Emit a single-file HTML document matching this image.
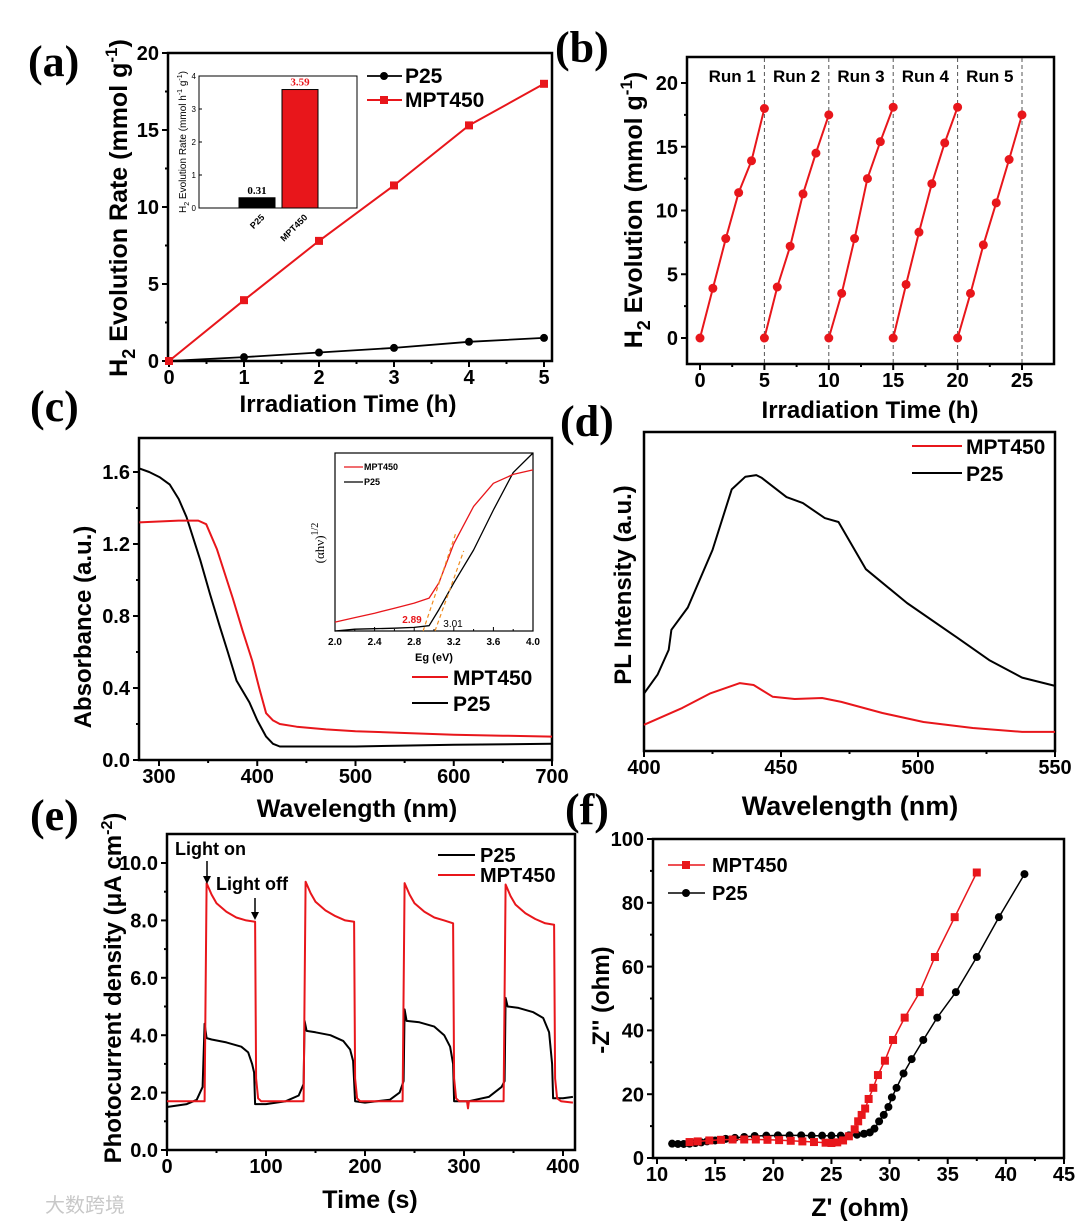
<!DOCTYPE html>
<html><head><meta charset="utf-8">
<style>
html,body{margin:0;padding:0;background:#fff;}
svg{display:block;font-family:"Liberation Sans",Arial,sans-serif;}
</style></head>
<body>
<svg id="fig" width="1080" height="1226" viewBox="0 0 1080 1226" xmlns="http://www.w3.org/2000/svg"></svg>
<script>
// ---------- DATA ----------
// (a)
const aTimes=[0,1,2,3,4,5];
const aP25=[0,0.25,0.55,0.85,1.25,1.5];
const aMPT=[0,3.95,7.8,11.4,15.3,18.0];
const aInsetCats=["P25","MPT450"];
const aInsetVals=[0.31,3.59];
// (b)
const bRunHours=[0,1,2,3,4,5];
const bRun1=[0,3.9,7.8,11.4,13.9,18.0];
const bRun2=[0,4.0,7.2,11.3,14.5,17.5];
const bRun3=[0,3.5,7.8,12.5,15.4,18.1];
const bRun4=[0,4.2,8.3,12.1,15.3,18.1];
const bRun5=[0,3.5,7.3,10.6,14.0,17.5];
const bRunLabels=["Run 1","Run 2","Run 3","Run 4","Run 5"];
// (c)
const cMPTwl=[280,300,320,340,348,359,375,385,395,402,409,416,423,440,470,500,550,600,650,700];
const cMPTab=[1.32,1.325,1.33,1.33,1.31,1.17,0.9,0.72,0.55,0.4,0.26,0.22,0.2,0.185,0.17,0.16,0.15,0.14,0.135,0.13];
const cP25wl=[280,290,301,311,320,328,342,352,362,370,379,392,400,409,416,423,450,500,600,700];
const cP25ab=[1.62,1.6,1.57,1.53,1.45,1.35,1.11,0.92,0.74,0.6,0.44,0.32,0.22,0.13,0.09,0.075,0.075,0.075,0.085,0.09];
const cInEg=[2.0,2.2,2.4,2.6,2.8,2.95,3.05,3.2,3.4,3.6,3.8,4.0];
const cInMPT=[5,7.5,10,12.8,15.7,18.5,27,49,70,83,88,90.5];
const cInP25=[0,1,1.3,1.6,2,3,12,27,45.5,68,89,100];
// (d)
const dWlP25=[400,405,409,410,416,425,432,437,441,443,452,458,466,471,481,496,514,526,538,550];
const dP25=[18,24,31.7,38,45,63,82,86,86.5,85.6,79.6,77.7,73,71.8,57,46.4,35.7,28.5,23,20.4];
const dWlMPT=[400,414,424,435,440,447,455,465,472,487,502,520,538,550];
const dMPT=[8.2,13.5,18,21.3,20.7,17,16.3,16.6,15.4,11.9,9.1,7.2,6,6];
// (e)
const eTimeMPT=[0,38,40,45,50,60,70,80,89,90,92,95,138,140,145,150,160,170,180,189,190,192,195,238,240,245,250,260,270,280,289,290,292,295,303,304,305,340,342,347,352,362,372,382,391,392,394,398,410];
const eMPT=[1.7,1.7,9.3,8.9,8.6,8.3,8.1,8.0,7.95,2.5,1.8,1.7,1.7,9.35,8.95,8.65,8.35,8.15,8.0,7.95,2.5,1.8,1.7,1.7,9.3,8.9,8.6,8.3,8.1,8.0,7.9,2.5,1.8,1.7,1.7,1.45,1.7,1.7,9.25,8.85,8.55,8.25,8.05,7.9,7.85,2.5,1.8,1.7,1.65];
const eTimeP25=[0,20,30,36,38,40,45,60,75,82,86,88,89,100,120,133,138,139,141,150,165,178,185,188,190,200,225,235,239,240,242,255,270,280,286,289,290,305,325,338,341,342,344,355,370,380,386,389,390,400,410];
const eP25=[1.5,1.6,1.75,2.2,4.4,3.9,3.85,3.75,3.6,3.4,3.0,2.7,1.6,1.6,1.7,1.9,2.3,4.5,4.15,4.1,4.0,3.8,3.5,3.1,1.7,1.65,1.75,2.0,2.4,4.9,4.5,4.45,4.3,4.0,3.6,3.0,1.7,1.7,1.85,2.2,2.4,5.3,5.0,4.95,4.8,4.6,4.1,3.0,1.8,1.8,1.85];
// (f)
const fZreMPT=[12.8,13.5,14.5,15.5,16.5,17.5,18.5,19.5,20.5,21.5,22.5,23.5,24.5,25,25.5,26,26.5,27,27.3,27.6,27.9,28.2,28.6,29,29.6,30.3,31.3,32.6,33.9,35.6,37.5];
const fZimMPT=[5,5.2,5.5,5.7,5.8,5.8,5.8,5.7,5.6,5.4,5.2,5.0,4.8,4.7,4.9,5.5,6.8,9,11.5,13.5,15.5,18.5,22,26,30.5,37,44,52,63,75.5,89.5];
const fZreP25=[11.3,11.8,12.3,12.8,13.3,13.8,14.3,15,15.9,16.7,17.5,18.4,19.4,20.4,21.4,22.4,23.3,24.2,25,25.8,26.5,27.2,27.8,28.3,28.7,29.1,29.5,29.9,30.2,30.6,31.2,31.9,32.9,34.1,35.7,37.5,39.4,41.6];
const fZimP25=[4.5,4.4,4.4,4.5,4.7,4.9,5.2,5.5,6.0,6.3,6.6,6.9,7.0,7.1,7.1,7.1,7.0,7.0,7.0,7.0,7.1,7.3,7.6,8.0,9.2,11.5,13.5,16,19,22,26.5,31,37,44,52,63,75.5,89];

// ---------- HELPERS ----------
const NS="http://www.w3.org/2000/svg";
const svg=document.getElementById('fig');
function mk(tag,attrs,name,parent){
  const el=document.createElementNS(NS,tag);
  for(const k in attrs) el.setAttribute(k,attrs[k]);
  
  
  (parent||svg).appendChild(el);
  return el;
}
function txt(s,x,y,opt,name,parent){
  const a={x:x,y:y,'font-size':opt.size||20,'font-weight':opt.weight||'bold',fill:opt.fill||'#000','text-anchor':opt.anchor||'middle'};
  if(opt.family) a['font-family']=opt.family;
  if(opt.rot!==undefined) a.transform='rotate('+opt.rot+' '+x+' '+y+')';
  const t=mk('text',a,name,parent);
  t.textContent=s;
  return t;
}
function scale(v0,v1,p0,p1){return v=>p0+(v-v0)*(p1-p0)/(v1-v0);}
function panel(id,box,sx,sy,xt,yt,opt){
  const g=mk('g',{},'panel-'+id);
  mk('rect',{x:box[0],y:box[1],width:box[2]-box[0],height:box[3]-box[1],fill:'none',stroke:'#000','stroke-width':opt.sw||2.5},'plot-frame-'+id,g);
  const fs=opt.fs||20;
  if(xt){
    for(let v=xt.min; v<=xt.max+1e-9; v+=xt.minor){
      const major=Math.abs(Math.round((v-xt.min)/xt.step)*xt.step-(v-xt.min))<1e-6;
      const x=sx(v);
      mk('line',{x1:x,x2:x,y1:box[3],y2:box[3]+(major?(opt.tl||6):(opt.tl||6)/2),stroke:'#000','stroke-width':opt.tw||2},'x-tick-'+id,g);
      if(major && !xt.nolabel) txt(xt.fmt?xt.fmt(v):String(Math.round(v*100)/100),x,box[3]+(opt.xlo||23),{size:fs},'x-tick-label-'+id,g);
    }
  }
  if(yt){
    for(let v=yt.min; v<=yt.max+1e-9; v+=yt.minor){
      const major=Math.abs(Math.round((v-yt.min)/yt.step)*yt.step-(v-yt.min))<1e-6;
      const y=sy(v);
      mk('line',{x1:box[0],x2:box[0]-(major?(opt.tl||6):(opt.tl||6)/2),y1:y,y2:y,stroke:'#000','stroke-width':opt.tw||2},'y-tick-'+id,g);
      if(major && !yt.nolabel) txt(yt.fmt?yt.fmt(v):String(Math.round(v*100)/100),box[0]-(opt.ylo||9),y+fs*0.36,{size:fs,anchor:'end'},'y-tick-label-'+id,g);
    }
  }
  return g;
}
function line(xs,ys,sx,sy,color,w,name,parent){
  let d='';
  for(let i=0;i<xs.length;i++) d+=(i?'L':'M')+sx(xs[i]).toFixed(1)+' '+sy(ys[i]).toFixed(1);
  return mk('path',{d:d,fill:'none',stroke:color,'stroke-width':w,'stroke-linejoin':'round'},name,parent);
}
function circles(xs,ys,sx,sy,color,r,name,parent){
  for(let i=0;i<xs.length;i++) mk('circle',{cx:sx(xs[i]),cy:sy(ys[i]),r:r,fill:color},name,parent);
}
function squares(xs,ys,sx,sy,color,s,name,parent){
  for(let i=0;i<xs.length;i++) mk('rect',{x:sx(xs[i])-s/2,y:sy(ys[i])-s/2,width:s,height:s,fill:color},name,parent);
}
const RED='#e8161b';
const LBL={size:44,weight:'bold',family:'"Liberation Serif",serif',anchor:'start'};

// ---------- PANEL A ----------
(function(){
  const box=[168,53,552,361];
  const sx=scale(0,5,169,544), sy=scale(0,20,361,53);
  const g=panel('a',box,sx,sy,{min:0,max:5,step:1,minor:0.5},{min:0,max:20,step:5,minor:2.5},{});
  line(aTimes,aP25,sx,sy,'#000',1.8,'p25-line-a',g);
  circles(aTimes,aP25,sx,sy,'#000',4,'p25-marker-a',g);
  line(aTimes,aMPT,sx,sy,RED,2,'mpt450-line-a',g);
  squares(aTimes,aMPT,sx,sy,RED,8,'mpt450-marker-a',g);
  txt('(a)',28,76,LBL,'panel-label-a');
  const yl=txt('',127,208,{size:25,rot:-90},'y-axis-title-a');
  yl.innerHTML='H<tspan font-size="18" dy="8">2</tspan><tspan dy="-8"> Evolution Rate (mmol  g</tspan><tspan font-size="17" dy="-10">-1</tspan><tspan dy="10">)</tspan>';
  txt('Irradiation Time (h)',348,412,{size:24},'x-axis-title-a');
  mk('line',{x1:367,x2:402,y1:76,y2:76,stroke:'#000','stroke-width':1.8},'legend-line-p25-a');
  mk('circle',{cx:384,cy:76,r:4,fill:'#000'},'legend-marker-p25-a');
  txt('P25',405,83,{size:21,anchor:'start'},'legend-label-p25-a');
  mk('line',{x1:367,x2:402,y1:100,y2:100,stroke:RED,'stroke-width':2},'legend-line-mpt450-a');
  mk('rect',{x:380,y:96,width:8,height:8,fill:RED},'legend-marker-mpt450-a');
  txt('MPT450',405,107,{size:21,anchor:'start'},'legend-label-mpt450-a');
  const ib=[199,76,357,208];
  const iy=scale(0,4,208,76);
  const ig=mk('g',{},'inset-bar-chart-a');
  mk('rect',{x:ib[0],y:ib[1],width:ib[2]-ib[0],height:ib[3]-ib[1],fill:'#fff',stroke:'#000','stroke-width':1},'inset-frame-a',ig);
  for(let v=0;v<=4;v++){
    mk('line',{x1:ib[0],x2:ib[0]+3,y1:iy(v),y2:iy(v),stroke:'#000','stroke-width':1},'inset-y-tick-a',ig);
    txt(String(v),ib[0]-3,iy(v)+3,{size:8,weight:'normal',anchor:'end'},'inset-y-tick-label-a',ig);
  }
  const barX=[257,300], barW=36, barCol=['#000',RED];
  for(let i=0;i<aInsetVals.length;i++){
    mk('rect',{x:barX[i]-barW/2,y:iy(aInsetVals[i]),width:barW,height:208-iy(aInsetVals[i]),fill:barCol[i],stroke:'#000','stroke-width':1},'inset-bar-'+aInsetCats[i].toLowerCase(),ig);
    txt(aInsetVals[i].toFixed(2),barX[i],iy(aInsetVals[i])-4,{size:11,fill:barCol[i],family:'"Liberation Serif",serif'},'inset-bar-value-'+aInsetCats[i].toLowerCase(),ig);
    txt(aInsetCats[i],barX[i]+8,218,{size:9,anchor:'end',rot:-45},'inset-x-label-'+aInsetCats[i].toLowerCase(),ig);
  }
  const it=txt('',186,142,{size:10,weight:'normal',rot:-90},'inset-y-axis-title-a',ig);
  it.innerHTML='H<tspan font-size="7" dy="3">2</tspan><tspan dy="-3"> Evolution Rate (mmol h</tspan><tspan font-size="7" dy="-4">-1</tspan><tspan dy="4"> g</tspan><tspan font-size="7" dy="-4">-1</tspan><tspan dy="4">)</tspan>';
})();

// ---------- PANEL B ----------
(function(){
  const box=[687,57,1054,364];
  const sx=scale(0,25,700,1022), sy=scale(0,20,338,83);
  const g=panel('b',box,sx,sy,{min:0,max:25,step:5,minor:2.5},{min:0,max:20,step:5,minor:2.5},{});
  for(let k=1;k<=5;k++){
    const x=sx(k*5);
    mk('line',{x1:x,x2:x,y1:box[1]+1,y2:box[3]-1,stroke:'#555','stroke-width':1,'stroke-dasharray':'4,3'},'run-divider',g);
  }
  const runs=[bRun1,bRun2,bRun3,bRun4,bRun5];
  runs.forEach((r,i)=>{
    const xs=bRunHours.map(h=>h+i*5);
    line(xs,r,sx,sy,RED,2,'run-'+(i+1)+'-line',g);
    circles(xs,r,sx,sy,RED,4.5,'run-'+(i+1)+'-marker',g);
    txt(bRunLabels[i],sx(i*5+2.5),82,{size:17},'run-label-'+(i+1),g);
  });
  txt('(b)',555,62,LBL,'panel-label-b');
  const yl=txt('',642,210,{size:25,rot:-90},'y-axis-title-b');
  yl.innerHTML='H<tspan font-size="18" dy="8">2</tspan><tspan dy="-8"> Evolution (mmol g</tspan><tspan font-size="17" dy="-10">-1</tspan><tspan dy="10">)</tspan>';
  txt('Irradiation Time (h)',870,418,{size:24},'x-axis-title-b');
})();

// ---------- PANEL C ----------
(function(){
  const box=[139,438,552,760];
  const sx=scale(300,700,159,552), sy=scale(0,1.6,760,472);
  const g=panel('c',box,sx,sy,{min:300,max:700,step:100,minor:50},{min:0,max:1.6,step:0.4,minor:0.2,fmt:v=>v.toFixed(1)},{});
  line(cP25wl,cP25ab,sx,sy,'#000',2,'p25-absorbance-line',g);
  line(cMPTwl,cMPTab,sx,sy,RED,2,'mpt450-absorbance-line',g);
  txt('(c)',30,421,LBL,'panel-label-c');
  txt('Absorbance (a.u.)',91,627,{size:24,rot:-90},'y-axis-title-c');
  txt('Wavelength (nm)',357,817,{size:25},'x-axis-title-c');
  mk('line',{x1:412,x2:448,y1:677,y2:677,stroke:RED,'stroke-width':2},'legend-line-mpt450-c');
  txt('MPT450',453,685,{size:21,anchor:'start'},'legend-label-mpt450-c');
  mk('line',{x1:412,x2:448,y1:703,y2:703,stroke:'#000','stroke-width':2},'legend-line-p25-c');
  txt('P25',453,711,{size:21,anchor:'start'},'legend-label-p25-c');
  const ib=[335,453,533,631];
  const ix=scale(2,4,335,533), iy=scale(0,100,631,453);
  const ig=mk('g',{},'inset-tauc-plot-c');
  mk('rect',{x:ib[0],y:ib[1],width:ib[2]-ib[0],height:ib[3]-ib[1],fill:'#fff',stroke:'#000','stroke-width':1.2},'inset-frame-c',ig);
  for(let v=2.0;v<=4.001;v+=0.2){
    const x=ix(v), maj=Math.round(v*10)%4===0;
    mk('line',{x1:x,x2:x,y1:631,y2:maj?627:629,stroke:'#000','stroke-width':1},'inset-x-tick-c',ig);
    if(maj) txt(v.toFixed(1),x,645,{size:10},'inset-x-tick-label-c',ig);
  }
  line(cInEg,cInP25,ix,iy,'#000',1.3,'inset-p25-line',ig);
  line(cInEg,cInMPT,ix,iy,RED,1.3,'inset-mpt450-line',ig);
  mk('line',{x1:ix(2.89),y1:iy(0),x2:ix(3.22),y2:iy(55),stroke:'#f08c1e','stroke-width':1.2,'stroke-dasharray':'4,3'},'inset-tangent-mpt450',ig);
  mk('line',{x1:ix(3.01),y1:iy(0),x2:ix(3.3),y2:iy(45),stroke:'#f08c1e','stroke-width':1.2,'stroke-dasharray':'4,3'},'inset-tangent-p25',ig);
  txt('2.89',412,623,{size:10,fill:RED},'inset-bandgap-mpt450',ig);
  txt('3.01',453,627,{size:10,weight:'normal'},'inset-bandgap-p25',ig);
  txt('Eg (eV)',434,661,{size:11},'inset-x-axis-title-c',ig);
  const yt=txt('',324,543,{size:13,weight:'normal',family:'"Liberation Serif",serif',rot:-90},'inset-y-axis-title-c',ig);
  yt.innerHTML='(αhν)<tspan font-size="10" dy="-6">1/2</tspan>';
  mk('line',{x1:344,x2:363,y1:467,y2:467,stroke:RED,'stroke-width':1.2},'inset-legend-line-mpt450',ig);
  txt('MPT450',364,470,{size:9,anchor:'start'},'inset-legend-label-mpt450',ig);
  mk('line',{x1:344,x2:363,y1:482,y2:482,stroke:'#000','stroke-width':1.2},'inset-legend-line-p25',ig);
  txt('P25',364,485,{size:9,anchor:'start'},'inset-legend-label-p25',ig);
})();

// ---------- PANEL D ----------
(function(){
  const box=[644,432,1055,751];
  const sx=scale(400,550,644,1055), sy=scale(0,100,751,432);
  const g=panel('d',box,sx,sy,{min:400,max:550,step:50,minor:25},null,{});
  line(dWlP25,dP25,sx,sy,'#000',2,'p25-pl-line',g);
  line(dWlMPT,dMPT,sx,sy,RED,2,'mpt450-pl-line',g);
  txt('(d)',560,436,LBL,'panel-label-d');
  txt('PL Intensity (a.u.)',631,585,{size:24,rot:-90},'y-axis-title-d');
  txt('Wavelength (nm)',850,815,{size:27},'x-axis-title-d');
  mk('line',{x1:912,x2:962,y1:446,y2:446,stroke:RED,'stroke-width':2},'legend-line-mpt450-d');
  txt('MPT450',966,454,{size:21,anchor:'start'},'legend-label-mpt450-d');
  mk('line',{x1:912,x2:962,y1:473,y2:473,stroke:'#000','stroke-width':2},'legend-line-p25-d');
  txt('P25',966,481,{size:21,anchor:'start'},'legend-label-p25-d');
})();

// ---------- PANEL E ----------
(function(){
  const box=[167,834,575,1150];
  const sx=scale(0,400,167,563), sy=scale(0,10,1150,863);
  const g=panel('e',box,sx,sy,{min:0,max:400,step:100,minor:50},{min:0,max:10,step:2,minor:1,fmt:v=>v.toFixed(1)},{});
  line(eTimeP25,eP25,sx,sy,'#000',2,'p25-photocurrent-line',g);
  line(eTimeMPT,eMPT,sx,sy,RED,2,'mpt450-photocurrent-line',g);
  txt('(e)',30,830,LBL,'panel-label-e');
  const yl=txt('',121,988,{size:24,rot:-90},'y-axis-title-e');
  yl.innerHTML='Photocurrent density (μA cm<tspan font-size="16" dy="-9">-2</tspan><tspan dy="9">)</tspan>';
  txt('Time (s)',370,1208,{size:25},'x-axis-title-e');
  mk('line',{x1:438,x2:475,y1:855,y2:855,stroke:'#000','stroke-width':2},'legend-line-p25-e');
  txt('P25',480,862,{size:20,anchor:'start'},'legend-label-p25-e');
  mk('line',{x1:438,x2:475,y1:875,y2:875,stroke:RED,'stroke-width':2},'legend-line-mpt450-e');
  txt('MPT450',480,882,{size:20,anchor:'start'},'legend-label-mpt450-e');
  txt('Light on',175,855,{size:18,anchor:'start'},'annotation-light-on');
  mk('line',{x1:207,x2:207,y1:861,y2:878,stroke:'#000','stroke-width':1.5},'arrow-light-on');
  mk('path',{d:'M203 876 L211 876 L207 884 Z',fill:'#000'},'arrowhead-light-on');
  txt('Light off',216,890,{size:18,anchor:'start'},'annotation-light-off');
  mk('line',{x1:255,x2:255,y1:898,y2:914,stroke:'#000','stroke-width':1.5},'arrow-light-off');
  mk('path',{d:'M251 912 L259 912 L255 920 Z',fill:'#000'},'arrowhead-light-off');
})();

// ---------- PANEL F ----------
(function(){
  const box=[653,839,1064,1158];
  const sx=scale(10,45,657,1064), sy=scale(0,100,1158,839);
  const g=panel('f',box,sx,sy,{min:10,max:45,step:5,minor:2.5},{min:0,max:100,step:20,minor:10},{});
  line(fZreP25,fZimP25,sx,sy,'#000',1.5,'p25-nyquist-line',g);
  circles(fZreP25,fZimP25,sx,sy,'#000',4,'p25-nyquist-marker',g);
  line(fZreMPT,fZimMPT,sx,sy,RED,1.5,'mpt450-nyquist-line',g);
  squares(fZreMPT,fZimMPT,sx,sy,RED,8,'mpt450-nyquist-marker',g);
  txt('(f)',565,824,LBL,'panel-label-f');
  txt("-Z'' (ohm)",609,1000,{size:24,rot:-90},'y-axis-title-f');
  txt("Z' (ohm)",860,1216,{size:25},'x-axis-title-f');
  mk('line',{x1:668,x2:705,y1:865,y2:865,stroke:RED,'stroke-width':1.5},'legend-line-mpt450-f');
  mk('rect',{x:682,y:861,width:8,height:8,fill:RED},'legend-marker-mpt450-f');
  txt('MPT450',712,872,{size:20,anchor:'start'},'legend-label-mpt450-f');
  mk('line',{x1:668,x2:705,y1:893,y2:893,stroke:'#000','stroke-width':1.5},'legend-line-p25-f');
  mk('circle',{cx:686,cy:893,r:4,fill:'#000'},'legend-marker-p25-f');
  txt('P25',712,900,{size:20,anchor:'start'},'legend-label-p25-f');
})();

txt('大数跨境',45,1212,{size:20,weight:'normal',fill:'#c8c8c8',anchor:'start',family:'"Liberation Sans","Noto Sans CJK SC",sans-serif'},'watermark');
</script>
</body></html>
